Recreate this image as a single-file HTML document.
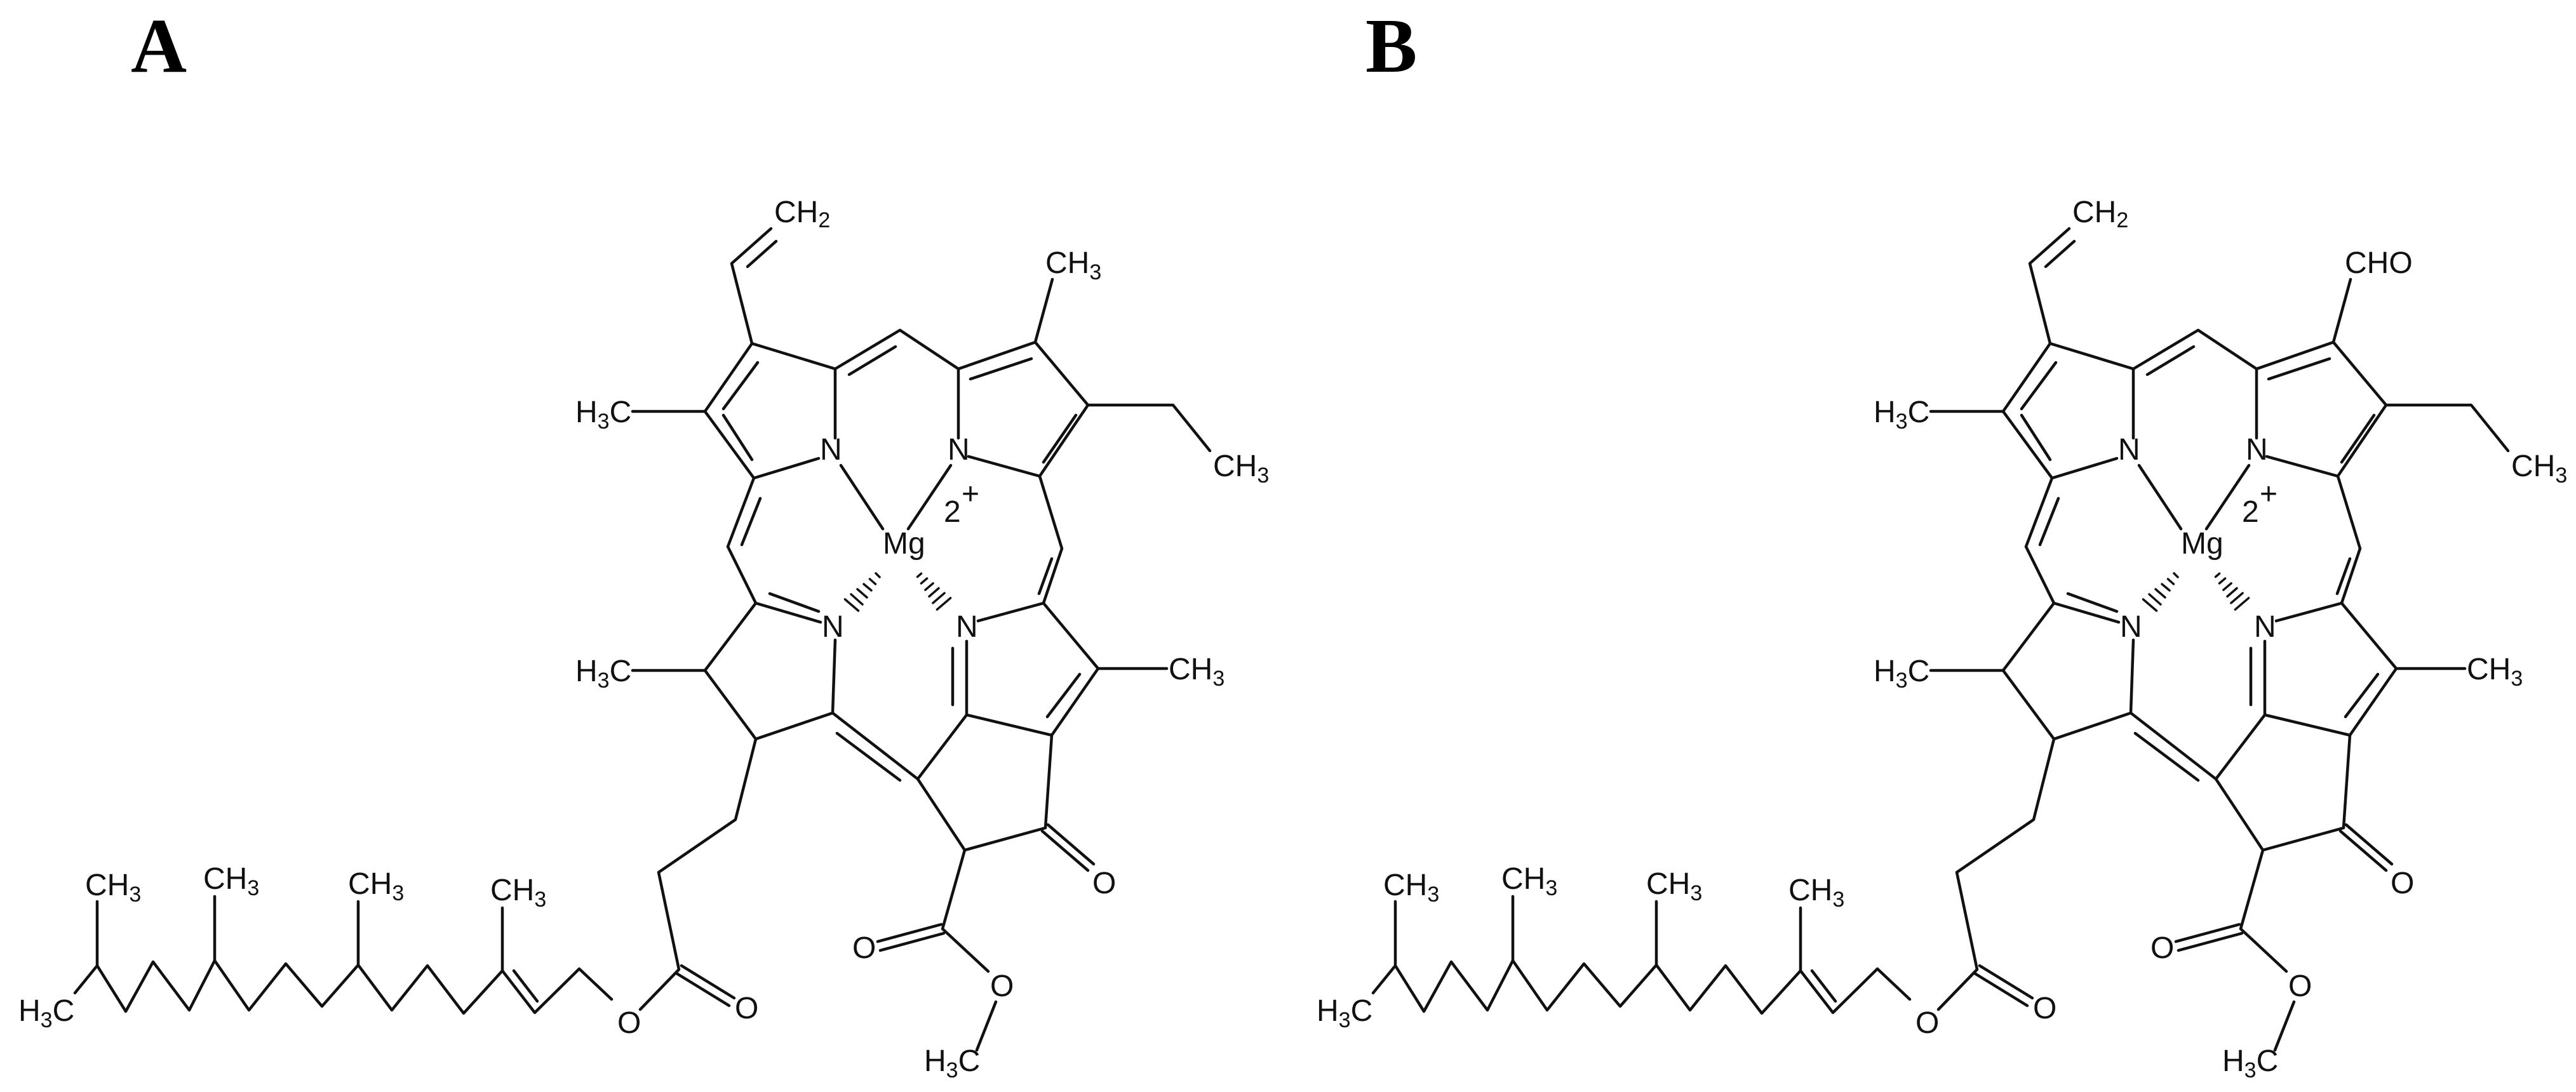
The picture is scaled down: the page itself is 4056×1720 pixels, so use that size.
<!DOCTYPE html>
<html><head><meta charset="utf-8"><style>
html,body{margin:0;padding:0;background:#fff;}
svg{display:block;}
text{font-family:"Liberation Sans",Arial,sans-serif;font-size:48px;fill:#111;}
.lbl{font-family:"Liberation Serif","Times New Roman",serif;font-weight:bold;font-size:122px;fill:#000;}
</style></head><body>
<svg width="4056" height="1720" viewBox="0 0 4056 1720" xmlns="http://www.w3.org/2000/svg">
<rect width="4056" height="1720" fill="#fff"/>
<text class="lbl" x="206" y="113">A</text>
<text class="lbl" x="2150" y="113">B</text>

<g id="molA" stroke="#111" stroke-width="4.5" fill="none" stroke-linecap="round" stroke-linejoin="round">
<!-- vinyl -->
<path d="M1214 360 L1152 415 L1184 541"/>
<path d="M1177 420 L1222 380"/>
<!-- ring A -->
<path d="M1184 541 L1110 648 L1187 753 L1289 722"/>
<path d="M1315 690 L1315 581 L1184 541"/>
<path d="M1193 571 L1139 644"/>
<path d="M1139 654 L1184 724"/>
<path d="M996 648 L1110 648"/>
<!-- meso top -->
<path d="M1315 581 L1417 520 L1509 581"/>
<path d="M1337 590 L1410 546"/>
<!-- ring B -->
<path d="M1509 690 L1509 581 L1630 539 L1713 638 L1637 750 L1525 719"/>
<path d="M1528 597 L1624 565"/>
<path d="M1694 654 L1643 728"/>
<path d="M1630 539 L1657 440"/>
<path d="M1713 638 L1847 638 L1905 710"/>
<!-- Mg bonds -->
<path d="M1324 733 L1390 833"/>
<path d="M1497 733 L1430 833"/>
<!-- meso left -->
<path d="M1187 753 L1146 861 L1190 950"/>
<path d="M1197 785 L1168 858"/>
<!-- meso right -->
<path d="M1637 750 L1672 864 L1643 950"/>
<path d="M1656 880 L1636 935"/>
<!-- ring C -->
<path d="M1190 950 L1292 980"/>
<path d="M1212 935 L1289 963"/>
<path d="M1315 1008 L1311 1123 L1190 1164 L1110 1056 L1190 950"/>
<path d="M996 1056 L1110 1056"/>
<!-- ring D -->
<path d="M1540 978 L1643 950 L1729 1053 L1656 1158 L1522 1126 L1522 1010"/>
<path d="M1500 1021 L1500 1110"/>
<path d="M1700 1062 L1649 1129"/>
<path d="M1729 1053 L1837 1053"/>
<!-- C13=C17 -->
<path d="M1311 1123 L1445 1227 L1522 1126"/>
<path d="M1318 1155 L1417 1229"/>
<!-- cyclopentanone -->
<path d="M1656 1158 L1646 1304 L1519 1339 L1445 1227"/>
<path d="M1650 1299 L1722 1361"/>
<path d="M1641 1309 L1713 1371"/>
<!-- methyl ester -->
<path d="M1519 1339 L1484 1463 L1556 1530"/>
<path d="M1486 1470 L1386 1497"/>
<path d="M1482 1456 L1382 1483"/>
<path d="M1568 1578 L1538 1654"/>
<!-- propionate -->
<path d="M1190 1164 L1158 1291 L1037 1374 L1069 1527 L1008 1590"/>
<path d="M1073 1521 L1156 1572"/>
<path d="M1065 1533 L1148 1584"/>
<!-- phytyl -->
<path d="M963 1574 L912 1526 L842 1595 L791 1529 L730 1596 L673 1521 L617 1591 L564 1520 L507 1585 L450 1518 L392 1591 L338 1513 L298 1591 L241 1515 L198 1593 L153 1521 L118 1564"/>
<path d="M809 1529 L846 1577"/>
<path d="M153 1521 L153 1420"/>
<path d="M338 1513 L338 1412"/>
<path d="M564 1520 L564 1420"/>
<path d="M791 1529 L791 1430"/>
<!-- hashed -->
<g stroke-width="3.5">
<path d="M1379 903 L1385 909 M1369.5 912 L1378.5 920 M1360 920 L1372 930 M1350 928 L1365 941 M1340 936 L1358 952 M1330.5 944 L1351.5 962"/>
<path d="M1444.5 908.6 L1450.5 903.4 M1450.4 918.9 L1459.6 911.1 M1456.9 929.2 L1469.1 918.8 M1463 939.5 L1478 926.5 M1468.9 949.8 L1487.1 934.2 M1475.4 960.1 L1496.6 941.9"/>
</g>
</g>
<g id="txtA">
<text x="1219" y="350">CH<tspan font-size="34" dy="8">2</tspan></text>
<text x="906" y="665">H<tspan font-size="34" dy="10">3</tspan><tspan dy="-10">C</tspan></text>
<text x="1646" y="430">CH<tspan font-size="34" dy="10">3</tspan></text>
<text x="1910" y="750">CH<tspan font-size="34" dy="10">3</tspan></text>
<text x="1291" y="724">N</text>
<text x="1492" y="724">N</text>
<text x="1390" y="872">Mg</text>
<text x="1486" y="822" font-size="46">2</text>
<text x="1514" y="794" font-size="34">+</text>
<text x="1294" y="1003">N</text>
<text x="1505" y="1003">N</text>
<text x="906" y="1073">H<tspan font-size="34" dy="10">3</tspan><tspan dy="-10">C</tspan></text>
<text x="1840" y="1070">CH<tspan font-size="34" dy="10">3</tspan></text>
<text x="1720" y="1407">O</text>
<text x="1342" y="1509">O</text>
<text x="1559" y="1569">O</text>
<text x="1455" y="1687">H<tspan font-size="34" dy="10">3</tspan><tspan dy="-10">C</tspan></text>
<text x="1157" y="1604">O</text>
<text x="972" y="1627">O</text>
<text x="29" y="1608">H<tspan font-size="34" dy="10">3</tspan><tspan dy="-10">C</tspan></text>
<text x="134" y="1410">CH<tspan font-size="34" dy="10">3</tspan></text>
<text x="320" y="1400">CH<tspan font-size="34" dy="10">3</tspan></text>
<text x="548" y="1408">CH<tspan font-size="34" dy="10">3</tspan></text>
<text x="772" y="1418">CH<tspan font-size="34" dy="10">3</tspan></text>
</g>

<g transform="translate(2044,0)">
<g stroke="#111" stroke-width="4.5" fill="none" stroke-linecap="round" stroke-linejoin="round">
<path d="M1214 360 L1152 415 L1184 541"/>
<path d="M1177 420 L1222 380"/>
<path d="M1184 541 L1110 648 L1187 753 L1289 722"/>
<path d="M1315 690 L1315 581 L1184 541"/>
<path d="M1193 571 L1139 644"/>
<path d="M1139 654 L1184 724"/>
<path d="M996 648 L1110 648"/>
<path d="M1315 581 L1417 520 L1509 581"/>
<path d="M1337 590 L1410 546"/>
<path d="M1509 690 L1509 581 L1630 539 L1713 638 L1637 750 L1525 719"/>
<path d="M1528 597 L1624 565"/>
<path d="M1694 654 L1643 728"/>
<path d="M1630 539 L1657 440"/>
<path d="M1713 638 L1847 638 L1905 710"/>
<path d="M1324 733 L1390 833"/>
<path d="M1497 733 L1430 833"/>
<path d="M1187 753 L1146 861 L1190 950"/>
<path d="M1197 785 L1168 858"/>
<path d="M1637 750 L1672 864 L1643 950"/>
<path d="M1656 880 L1636 935"/>
<path d="M1190 950 L1292 980"/>
<path d="M1212 935 L1289 963"/>
<path d="M1315 1008 L1311 1123 L1190 1164 L1110 1056 L1190 950"/>
<path d="M996 1056 L1110 1056"/>
<path d="M1540 978 L1643 950 L1729 1053 L1656 1158 L1522 1126 L1522 1010"/>
<path d="M1500 1021 L1500 1110"/>
<path d="M1700 1062 L1649 1129"/>
<path d="M1729 1053 L1837 1053"/>
<path d="M1311 1123 L1445 1227 L1522 1126"/>
<path d="M1318 1155 L1417 1229"/>
<path d="M1656 1158 L1646 1304 L1519 1339 L1445 1227"/>
<path d="M1650 1299 L1722 1361"/>
<path d="M1641 1309 L1713 1371"/>
<path d="M1519 1339 L1484 1463 L1556 1530"/>
<path d="M1486 1470 L1386 1497"/>
<path d="M1482 1456 L1382 1483"/>
<path d="M1568 1578 L1538 1654"/>
<path d="M1190 1164 L1158 1291 L1037 1374 L1069 1527 L1008 1590"/>
<path d="M1073 1521 L1156 1572"/>
<path d="M1065 1533 L1148 1584"/>
<path d="M963 1574 L912 1526 L842 1595 L791 1529 L730 1596 L673 1521 L617 1591 L564 1520 L507 1585 L450 1518 L392 1591 L338 1513 L298 1591 L241 1515 L198 1593 L153 1521 L118 1564"/>
<path d="M809 1529 L846 1577"/>
<path d="M153 1521 L153 1420"/>
<path d="M338 1513 L338 1412"/>
<path d="M564 1520 L564 1420"/>
<path d="M791 1529 L791 1430"/>
<g stroke-width="3.5">
<path d="M1379 903 L1385 909 M1369.5 912 L1378.5 920 M1360 920 L1372 930 M1350 928 L1365 941 M1340 936 L1358 952 M1330.5 944 L1351.5 962"/>
<path d="M1444.5 908.6 L1450.5 903.4 M1450.4 918.9 L1459.6 911.1 M1456.9 929.2 L1469.1 918.8 M1463 939.5 L1478 926.5 M1468.9 949.8 L1487.1 934.2 M1475.4 960.1 L1496.6 941.9"/>
</g>
</g>
<text x="1219" y="350">CH<tspan font-size="34" dy="8">2</tspan></text>
<text x="906" y="665">H<tspan font-size="34" dy="10">3</tspan><tspan dy="-10">C</tspan></text>
<text x="1648" y="430">CHO</text>
<text x="1910" y="750">CH<tspan font-size="34" dy="10">3</tspan></text>
<text x="1291" y="724">N</text>
<text x="1492" y="724">N</text>
<text x="1390" y="872">Mg</text>
<text x="1486" y="822" font-size="46">2</text>
<text x="1514" y="794" font-size="34">+</text>
<text x="1294" y="1003">N</text>
<text x="1505" y="1003">N</text>
<text x="906" y="1073">H<tspan font-size="34" dy="10">3</tspan><tspan dy="-10">C</tspan></text>
<text x="1840" y="1070">CH<tspan font-size="34" dy="10">3</tspan></text>
<text x="1720" y="1407">O</text>
<text x="1342" y="1509">O</text>
<text x="1559" y="1569">O</text>
<text x="1455" y="1687">H<tspan font-size="34" dy="10">3</tspan><tspan dy="-10">C</tspan></text>
<text x="1157" y="1604">O</text>
<text x="972" y="1627">O</text>
<text x="29" y="1608">H<tspan font-size="34" dy="10">3</tspan><tspan dy="-10">C</tspan></text>
<text x="134" y="1410">CH<tspan font-size="34" dy="10">3</tspan></text>
<text x="320" y="1400">CH<tspan font-size="34" dy="10">3</tspan></text>
<text x="548" y="1408">CH<tspan font-size="34" dy="10">3</tspan></text>
<text x="772" y="1418">CH<tspan font-size="34" dy="10">3</tspan></text>
</g>
</svg>
</body></html>
